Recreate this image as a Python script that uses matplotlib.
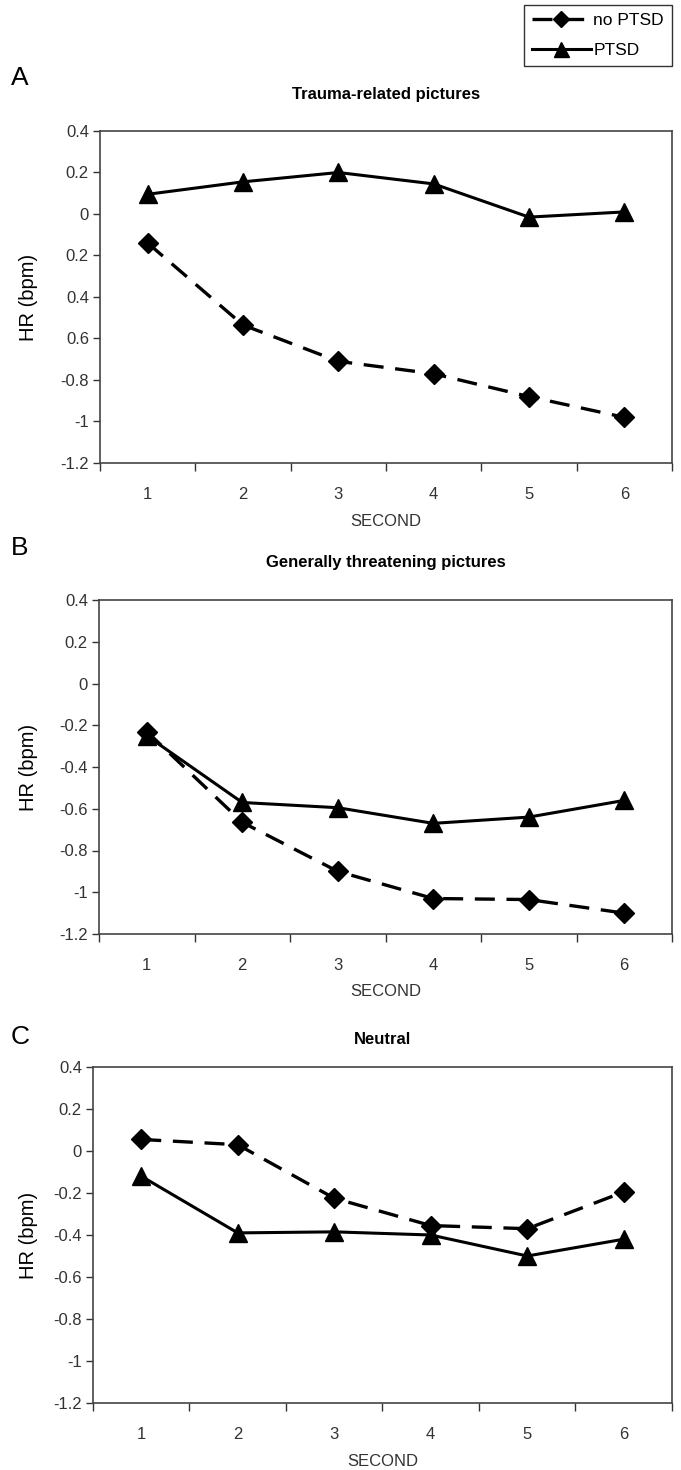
import matplotlib
matplotlib.use("Agg")
import matplotlib.pyplot as plt
import numpy as np

plt.rcParams['font.family'] = ['Liberation Sans', 'DejaVu Sans']

seconds = [1, 2, 3, 4, 5, 6]

# Trauma-related pictures
a_no_ptsd = [-0.14, -0.535, -0.71, -0.77, -0.88, -0.98]
a_ptsd = [0.095, 0.155, 0.2, 0.145, -0.015, 0.01]

# Generally threatening pictures
b_no_ptsd = [-0.23, -0.665, -0.90, -1.03, -1.035, -1.10]
b_ptsd = [-0.25, -0.57, -0.595, -0.67, -0.64, -0.56]

# Neutral
c_no_ptsd = [0.055, 0.03, -0.225, -0.355, -0.37, -0.195]
c_ptsd = [-0.12, -0.39, -0.385, -0.40, -0.50, -0.42]

yticks = [0.4, 0.2, 0, -0.2, -0.4, -0.6, -0.8, -1, -1.2]
yticklabels_a = ["0.4", "0.2", "0", "0.2", "0.4", "0.6", "-0.8", "-1", "-1.2"]
yticklabels = ["0.4", "0.2", "0", "-0.2", "-0.4", "-0.6", "-0.8", "-1", "-1.2"]

W, H = 681, 1470
fig = plt.figure(figsize=(W / 100, H / 100), dpi=100)


def px_axes(left, right, top, bottom):
    return fig.add_axes([left / W, 1 - bottom / H, (right - left) / W, (bottom - top) / H])


def draw_panel(box, no_ptsd, ptsd, title, letter, title_y, letter_y, labels):
    ax = px_axes(*box)
    l1, = ax.plot(seconds, no_ptsd, color='black', lw=2.4, linestyle=(0, (6, 3.5)),
                  marker='D', markersize=10.5, markerfacecolor='black', markeredgecolor='black')
    l2, = ax.plot(seconds, ptsd, color='black', lw=2.2, linestyle='-',
                  marker='^', markersize=13.5, markerfacecolor='black', markeredgecolor='black')
    ax.set_xlim(0.5, 6.5)
    ax.set_ylim(-1.2, 0.4)
    ax.set_yticks(yticks)
    ax.set_yticklabels(labels)
    ax.set_xticks(seconds)
    ax.set_xticks(np.arange(0.5, 7, 1), minor=True)
    ax.tick_params(axis='x', which='major', length=0, pad=17, labelsize=12, colors='#333333')
    ax.tick_params(axis='x', which='minor', length=6, width=1, direction='out', color='#333333')
    ax.tick_params(axis='y', length=5, width=1, direction='out', pad=3, labelsize=12,
                   colors='#333333')
    for s in ax.spines.values():
        s.set_color('#444444')
        s.set_linewidth(1.2)
    left, right, top, bottom = box
    cx = (left + right) / 2 / W
    fig.text(cx, 1 - title_y / H, title, ha='center', va='center', fontsize=12,
             fontweight='bold')
    fig.text(11 / W, 1 - letter_y / H, letter, ha='left', va='center', fontsize=19)
    fig.text(29 / W, 1 - (top + bottom) / 2 / H, "HR (bpm)", rotation=90, ha='center',
             va='center', fontsize=14.5)
    fig.text(cx, 1 - (bottom + 58) / H, "SECOND", ha='center', va='center', fontsize=12,
             color='#333333')
    return l1, l2


l1, l2 = draw_panel((100, 672, 131, 463), a_no_ptsd, a_ptsd, "Trauma-related pictures",
                    "A", 94, 78, yticklabels_a)
draw_panel((99, 672, 600, 934), b_no_ptsd, b_ptsd, "Generally threatening pictures",
           "B", 563, 548, yticklabels)
draw_panel((93, 672, 1067, 1403), c_no_ptsd, c_ptsd, "Neutral",
           "C", 1040, 1037, yticklabels)

leg = fig.legend([l1, l2], ["no PTSD", "PTSD"], loc='upper left',
                 bbox_to_anchor=(524 / W, 1 - 5 / H), frameon=True, fancybox=False,
                 fontsize=12.5, handlelength=3.4, handletextpad=0.15, borderpad=0.45,
                 labelspacing=0.85, borderaxespad=0, markerscale=0.8)
leg.get_frame().set_edgecolor('black')
leg.get_frame().set_linewidth(1.0)

fig.savefig("out.png", dpi=100)
